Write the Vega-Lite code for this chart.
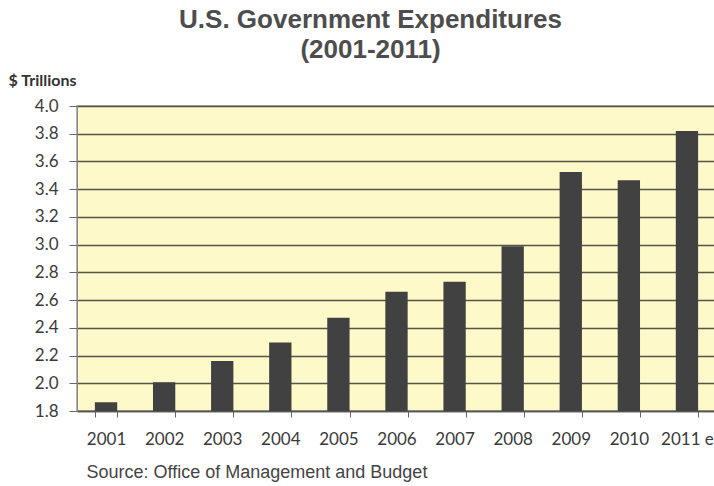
{
  "$schema": "https://vega.github.io/schema/vega-lite/v6.json",
  "autosize": "none",
  "width": 639,
  "height": 305,
  "padding": {"left": 77, "top": 106, "right": 0, "bottom": 75},
  "background": "white",
  "title": {
    "text": ["U.S. Government Expenditures", "(2001-2011)"],
    "font": "Liberation Sans",
    "fontSize": 26,
    "fontWeight": "bold",
    "color": "#4d4d4d",
    "lineHeight": 30,
    "anchor": "middle",
    "frame": "group",
    "dx": -26,
    "offset": 9
  },
  "data": {
    "values": [
      {"year": "2001", "spend": 1.863},
      {"year": "2002", "spend": 2.007},
      {"year": "2003", "spend": 2.16},
      {"year": "2004", "spend": 2.295},
      {"year": "2005", "spend": 2.472},
      {"year": "2006", "spend": 2.66},
      {"year": "2007", "spend": 2.732},
      {"year": "2008", "spend": 2.989},
      {"year": "2009", "spend": 3.524},
      {"year": "2010", "spend": 3.464},
      {"year": "2011 e", "spend": 3.82}
    ]
  },
  "mark": {"type": "bar", "color": "#414141", "clip": true},
  "encoding": {
    "x": {
      "field": "year",
      "type": "nominal",
      "sort": null,
      "scale": {"paddingInner": 0.616, "paddingOuter": 0.308},
      "axis": {
        "title": "Source: Office of Management and Budget",
        "titleFont": "Liberation Sans",
        "titleFontSize": 18,
        "titleFontWeight": "normal",
        "titleColor": "#444444",
        "titleAlign": "left",
        "titleAnchor": "start",
        "titleX": 9,
        "titleY": 66,
        "titleBaseline": "alphabetic",
        "labelAngle": 0,
        "labelFont": "Lato",
        "labelFontSize": 17,
        "labelColor": "#3a3a3a",
        "labelPadding": 14,
        "tickBand": "extent",
        "tickSize": 6,
        "tickColor": "#666666",
        "domainColor": "#555555",
        "domainWidth": 1.5,
        "grid": false
      }
    },
    "y": {
      "field": "spend",
      "type": "quantitative",
      "scale": {"domain": [1.8, 4.0], "nice": false, "zero": false},
      "axis": {
        "values": [1.8, 2.0, 2.2, 2.4, 2.6, 2.8, 3.0, 3.2, 3.4, 3.6, 3.8, 4.0],
        "format": ".1f",
        "title": "$ Trillions",
        "titleFont": "Lato",
        "titleFontSize": 16,
        "titleFontWeight": "bold",
        "titleColor": "#333333",
        "titleAngle": 0,
        "titleAlign": "left",
        "titleBaseline": "alphabetic",
        "titleX": -69,
        "titleY": -21,
        "labelFont": "Lato",
        "labelFontSize": 17,
        "labelColor": "#3a3a3a",
        "labelPadding": 11,
        "tickSize": 8,
        "tickColor": "#666666",
        "domainColor": "#888888",
        "grid": true,
        "gridColor": "#55554a",
        "gridWidth": 1.4
      }
    }
  },
  "config": {
    "view": {"fill": "#fdf9c8", "stroke": "#999999", "strokeWidth": 1.5}
  }
}
